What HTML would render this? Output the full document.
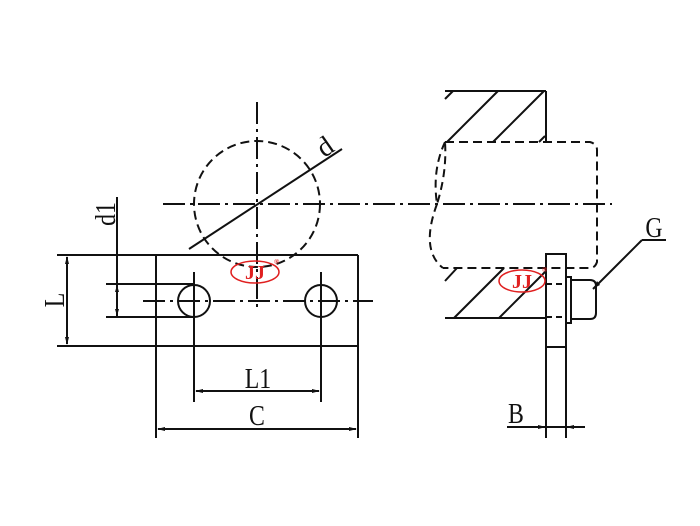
<!DOCTYPE html>
<html><head><meta charset="utf-8"><style>html,body{margin:0;padding:0;background:#fff}svg{display:block}</style></head>
<body>
<svg width="700" height="526" viewBox="0 0 700 526" xmlns="http://www.w3.org/2000/svg" fill="none" stroke="#111" stroke-width="2">
<g stroke-dasharray="22,5,3,5">
<line x1="257" y1="102" x2="257" y2="312"/>
<line x1="163" y1="204" x2="612" y2="204"/>
<line x1="143" y1="301" x2="373" y2="301"/>
</g>
<circle cx="257" cy="204" r="63" stroke-dasharray="9,5"/>
<line x1="189" y1="249" x2="342" y2="149"/>
<line x1="57" y1="255" x2="358" y2="255"/>
<line x1="57" y1="346" x2="358" y2="346"/>
<line x1="156" y1="255" x2="156" y2="438"/>
<line x1="358" y1="255" x2="358" y2="438"/>
<line x1="67" y1="257" x2="67" y2="344"/>
<line x1="117" y1="197" x2="117" y2="317"/>
<line x1="106" y1="284" x2="194" y2="284"/>
<line x1="106" y1="317" x2="194" y2="317"/>
<circle cx="194" cy="301" r="16"/>
<circle cx="321" cy="301" r="16"/>
<line x1="194" y1="272" x2="194" y2="402"/>
<line x1="321" y1="272" x2="321" y2="402"/>
<line x1="196" y1="391" x2="319" y2="391"/>
<line x1="158" y1="429" x2="356" y2="429"/>
<line x1="445" y1="91" x2="546" y2="91"/>
<line x1="546" y1="91" x2="546" y2="141"/>
<line x1="445" y1="99" x2="453" y2="91"/>
<line x1="447" y1="142" x2="498" y2="91"/>
<line x1="493" y1="142" x2="544" y2="91"/>
<line x1="539" y1="142" x2="545" y2="136"/>
<path d="M445 142 H590 Q597 144 597 150 V262 Q595 268 590 268 H443" stroke-dasharray="9,5"/>
<path d="M445 142 Q432 170 437 204 Q447 172 445 142" stroke-dasharray="8,5"/>
<path d="M437 204 Q420 250 443 268" stroke-dasharray="8,5"/>
<line x1="445" y1="318" x2="546" y2="318"/>
<line x1="445" y1="281" x2="457" y2="268"/>
<line x1="454" y1="318" x2="504" y2="268"/>
<line x1="499" y1="318" x2="546" y2="271"/>
<rect x="546" y="254" width="20" height="93"/>
<line x1="546" y1="347" x2="546" y2="438"/>
<line x1="566" y1="347" x2="566" y2="438"/>
<line x1="546" y1="284" x2="566" y2="284" stroke-dasharray="6,4"/>
<line x1="546" y1="317" x2="566" y2="317" stroke-dasharray="6,4"/>
<rect x="566" y="277" width="5" height="46"/>
<path d="M571 280 H590 Q596 280 596 286 V313 Q596 319 590 319 H571"/>
<line x1="593" y1="289" x2="642" y2="240"/>
<line x1="642" y1="240" x2="666" y2="240"/>
<line x1="507" y1="427" x2="585" y2="427"/>
<g fill="#111" stroke="none">
<polygon points="67,256 65,264 69,264"/><polygon points="67,345 65,337 69,337"/>
<polygon points="117,285 115,292 119,292"/><polygon points="117,316 115,309 119,309"/>
<polygon points="195,391 203,389 203,393"/><polygon points="320,391 312,389 312,393"/>
<polygon points="157,429 165,427 165,431"/><polygon points="357,429 349,427 349,431"/>
<polygon points="546,427 538,425 538,429"/><polygon points="566,427 574,425 574,429"/>
<polygon points="594,288 597,281 600,285"/>
</g>
<g fill="#111" stroke="none" font-family="Liberation Serif, serif" font-size="28">
<text x="318" y="154" transform="rotate(-35 328 146)">d</text>
<text x="258" y="388" text-anchor="middle" transform="translate(258 0) scale(0.85 1) translate(-258 0)">L1</text>
<text x="257" y="425" text-anchor="middle" transform="translate(257 0) scale(0.85 1) translate(-257 0)">C</text>
<text x="516" y="423" text-anchor="middle" transform="translate(516 0) scale(0.85 1) translate(-516 0)">B</text>
<text x="654" y="237" text-anchor="middle" transform="translate(654 0) scale(0.85 1) translate(-654 0)">G</text>
<text x="0" y="0" transform="translate(64 300) rotate(-90) scale(0.85 1)" text-anchor="middle">L</text>
<text x="0" y="0" transform="translate(115 214) rotate(-90) scale(0.85 1)" text-anchor="middle">d1</text>
</g>
<g stroke="#e02020" stroke-width="1.5">
<ellipse cx="255" cy="272" rx="24" ry="11"/>
<ellipse cx="522" cy="281" rx="23" ry="11"/>
</g>
<g fill="#e02020" stroke="none" font-family="Liberation Serif, serif" font-weight="bold" font-size="20">
<text x="255" y="279" text-anchor="middle">JJ</text>
<text x="522" y="288" text-anchor="middle">JJ</text>
<text x="274" y="264" font-size="7">®</text>
<text x="542" y="272" font-size="7">®</text>
</g>
</svg>
</body></html>
